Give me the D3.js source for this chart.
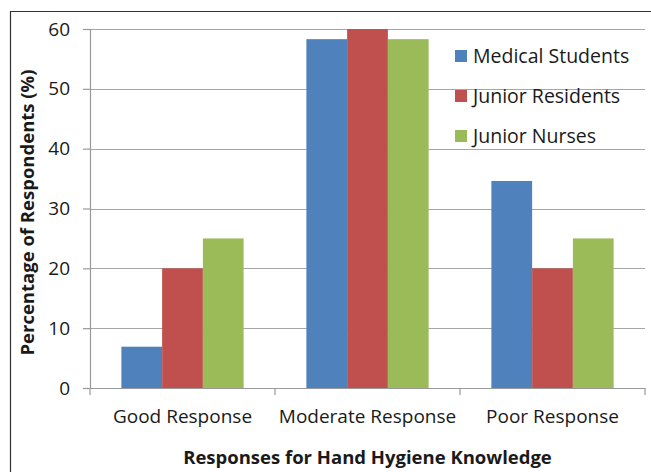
<!DOCTYPE html>
<html>
<head>
<meta charset="utf-8">
<script src="https://cdn.jsdelivr.net/npm/d3@7"></script>
<style>
  body { margin: 0; background: #fff; }
  text { font-family: "Open Sans", "Noto Sans", sans-serif; fill: #1a1a1a; }
</style>
</head>
<body>
<div id="chart-container"></div>
<script>
const categories = ["Good Response", "Moderate Response", "Poor Response"];
const seriesNames = ["Medical Students", "Junior Residents", "Junior Nurses"];
const medicalStudents = [6.9, 58.3, 34.6];
const juniorResidents = [20, 60, 20];
const juniorNurses = [25, 58.3, 25];
const yTicks = [0, 10, 20, 30, 40, 50, 60];
const colors = ["#4F81BD", "#C0504D", "#9BBB59"];

const seriesValues = [medicalStudents, juniorResidents, juniorNurses];

const W = 651, H = 472;
const margin = { top: 29, right: 6, bottom: 84, left: 90 };
const width = W - margin.left - margin.right;
const height = H - margin.top - margin.bottom;

const svg = d3.select("#chart-container")
    .append("svg")
    .attr("width", W)
    .attr("height", H);

// outer frame (top and left edges visible)
svg.append("path")
    .attr("d", `M10.5,${H} V11.5 H${W}`)
    .attr("fill", "none")
    .attr("stroke", "#333")
    .attr("stroke-width", 1.2);

const g = svg.append("g")
    .attr("transform", `translate(${margin.left},${margin.top})`);

const x0 = d3.scaleBand()
    .domain(categories)
    .range([0, width])
    .paddingInner(0)
    .paddingOuter(0);

const x1 = d3.scaleBand()
    .domain(seriesNames)
    .range([0, x0.bandwidth()])
    .paddingInner(0)
    .paddingOuter(0.77);

const y = d3.scaleLinear()
    .domain([0, 60])
    .range([height, 0]);

// gridlines
g.append("g")
    .selectAll("line")
    .data(yTicks.filter(d => d > 0))
    .enter().append("line")
    .attr("x1", 0)
    .attr("x2", width)
    .attr("y1", d => Math.round(y(d)) + 0.5)
    .attr("y2", d => Math.round(y(d)) + 0.5)
    .attr("stroke", "#a6a6a6")
    .attr("stroke-width", 1.2);

// bars
const data = [];
categories.forEach((c, i) => {
    seriesNames.forEach((s, j) => {
        data.push({ category: c, series: s, value: seriesValues[j][i], color: colors[j] });
    });
});

g.selectAll(".bar")
    .data(data)
    .enter().append("rect")
    .attr("class", "bar")
    .attr("x", d => x0(d.category) + x1(d.series))
    .attr("y", d => y(d.value))
    .attr("width", x1.bandwidth())
    .attr("height", d => height - y(d.value))
    .attr("fill", d => d.color);

// y axis
const yAxis = g.append("g")
    .call(d3.axisLeft(y).tickValues(yTicks).tickSize(7).tickPadding(13));
yAxis.select(".domain").attr("stroke", "#999").attr("stroke-width", 1.2);
yAxis.selectAll(".tick line").attr("stroke", "#999").attr("stroke-width", 1.2);
yAxis.selectAll(".tick text")
    .style("font-size", "19px")
    .attr("fill", "#1a1a1a");

// x axis
const xAxis = g.append("g")
    .attr("transform", `translate(0,${height})`)
    .call(d3.axisBottom(x0).tickSize(0).tickPadding(22));
xAxis.select(".domain").attr("stroke", "#999").attr("stroke-width", 1.2);
xAxis.selectAll(".tick text")
    .style("font-size", "19px")
    .attr("fill", "#1a1a1a");

// category separators on x axis
xAxis.selectAll(".sep")
    .data(d3.range(categories.length + 1))
    .enter().append("line")
    .attr("class", "sep")
    .attr("x1", i => i * x0.step())
    .attr("x2", i => i * x0.step())
    .attr("y1", 0)
    .attr("y2", 7)
    .attr("stroke", "#999")
    .attr("stroke-width", 1.2);

// axis titles
svg.append("text")
    .attr("x", margin.left + width / 2)
    .attr("y", 464)
    .attr("text-anchor", "middle")
    .style("font-size", "18.5px")
    .style("font-weight", "bold")
    .text("Responses for Hand Hygiene Knowledge");

svg.append("text")
    .attr("transform", `translate(34,${margin.top + height / 2 + 4}) rotate(-90)`)
    .attr("text-anchor", "middle")
    .style("font-size", "18.5px")
    .style("font-weight", "bold")
    .text("Percentage of Respondents (%)");

// legend
const legend = svg.append("g")
    .attr("transform", "translate(455,50)");

const items = legend.selectAll(".item")
    .data(seriesNames)
    .enter().append("g")
    .attr("class", "item")
    .attr("transform", (d, i) => `translate(0,${i * 40})`);

items.append("rect")
    .attr("width", 12)
    .attr("height", 12)
    .attr("fill", (d, i) => colors[i]);

items.append("text")
    .attr("x", 18)
    .attr("y", 13)
    .style("font-size", "19.5px")
    .text(d => d);
</script>
</body>
</html>
